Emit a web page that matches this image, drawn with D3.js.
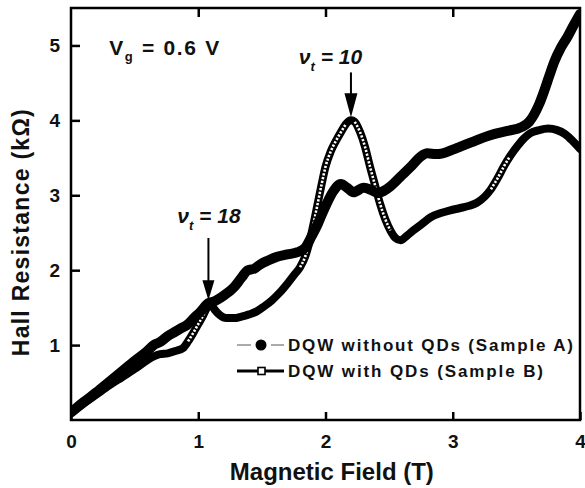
<!DOCTYPE html>
<html>
<head>
<meta charset="utf-8">
<script src="https://cdn.jsdelivr.net/npm/d3@7"></script>
<style>
  body { margin: 0; background: #fff; }
  svg { display: block; }
  text { font-family: "Liberation Sans", Arial, sans-serif; font-weight: bold; fill: #111; }
</style>
</head>
<body>
<svg id="chart"></svg>
<script>
// Sample A: DQW without QDs (filled circles)
const fieldA = [0.00, 0.10, 0.20, 0.30, 0.40, 0.50, 0.60, 0.65, 0.70, 0.76, 0.82, 0.86, 0.92, 0.96, 1.02, 1.08,
  1.12, 1.20, 1.28, 1.34, 1.39, 1.44, 1.49, 1.55, 1.62, 1.70, 1.78, 1.84, 1.89, 1.93, 1.97, 2.01, 2.06, 2.12,
  2.17, 2.22, 2.30, 2.36, 2.41, 2.46, 2.51, 2.59, 2.67, 2.75, 2.80, 2.87, 2.92, 3.00, 3.06, 3.15, 3.24, 3.33,
  3.43, 3.54, 3.60, 3.64, 3.68, 3.72, 3.76, 3.80, 3.85, 3.90, 3.95, 4.00];
const hallA = [0.10, 0.24, 0.37, 0.51, 0.65, 0.79, 0.92, 1.00, 1.04, 1.12, 1.18, 1.22, 1.28, 1.35, 1.45, 1.56,
  1.58, 1.66, 1.77, 1.90, 2.00, 2.02, 2.08, 2.13, 2.18, 2.21, 2.24, 2.30, 2.45, 2.58, 2.74, 2.89, 3.05, 3.15,
  3.10, 3.04, 3.10, 3.07, 3.03, 3.06, 3.12, 3.25, 3.38, 3.52, 3.56, 3.55, 3.56, 3.61, 3.65, 3.71, 3.77, 3.82,
  3.86, 3.91, 3.98, 4.08, 4.22, 4.40, 4.60, 4.79, 4.97, 5.11, 5.27, 5.42];

// Sample B: DQW with QDs (open squares)
const fieldB = [0.00, 0.10, 0.20, 0.30, 0.40, 0.50, 0.60, 0.65, 0.70, 0.76, 0.82, 0.88, 0.92, 0.96, 1.00, 1.04,
  1.07, 1.10, 1.13, 1.17, 1.22, 1.28, 1.34, 1.40, 1.46, 1.52, 1.58, 1.64, 1.70, 1.76, 1.80, 1.84, 1.87, 1.91,
  1.94, 1.97, 2.00, 2.04, 2.08, 2.12, 2.16, 2.20, 2.23, 2.27, 2.31, 2.35, 2.39, 2.43, 2.47, 2.51, 2.55, 2.59,
  2.64, 2.69, 2.76, 2.83, 2.90, 2.98, 3.06, 3.13, 3.19, 3.25, 3.30, 3.35, 3.40, 3.45, 3.51, 3.56, 3.61, 3.68,
  3.75, 3.82, 3.88, 3.94, 4.00];
const hallB = [0.10, 0.22, 0.34, 0.46, 0.57, 0.68, 0.80, 0.85, 0.88, 0.89, 0.92, 0.96, 1.05, 1.16, 1.28, 1.40,
  1.50, 1.54, 1.47, 1.40, 1.36, 1.36, 1.38, 1.41, 1.45, 1.52, 1.60, 1.70, 1.82, 1.95, 2.04, 2.18, 2.35, 2.65,
  2.90, 3.15, 3.38, 3.58, 3.72, 3.84, 3.95, 4.00, 3.98, 3.85, 3.65, 3.38, 3.13, 2.88, 2.68, 2.53, 2.43, 2.40,
  2.46, 2.53, 2.62, 2.71, 2.76, 2.80, 2.83, 2.86, 2.90, 2.98, 3.08, 3.22, 3.38, 3.52, 3.66, 3.76, 3.83, 3.87,
  3.89, 3.87, 3.82, 3.73, 3.62];

const xTicks = [0, 1, 2, 3, 4];
const yTicks = [1, 2, 3, 4, 5];
const legendLabels = ["DQW without QDs (Sample A)", "DQW with QDs (Sample B)"];

const width = 585;
const height = 488;
const margin = { top: 8, right: 5, bottom: 68, left: 71 };
const w = width - margin.left - margin.right;
const h = height - margin.top - margin.bottom;

const svg = d3.select("#chart").attr("width", width).attr("height", height);
const g = svg.append("g").attr("transform", `translate(${margin.left},${margin.top})`);

const x = d3.scaleLinear().domain([0, 4]).range([0, w]);
const y = d3.scaleLinear().domain([0, 5.5]).range([h, 0]);

const dataA = fieldA.map((f, i) => ({ b: f, r: hallA[i] }));
const dataB = fieldB.map((f, i) => ({ b: f, r: hallB[i] }));

g.append("clipPath").attr("id", "plot-clip")
  .append("rect").attr("width", w).attr("height", h);

const line = d3.line().x(d => x(d.b)).y(d => y(d.r)).curve(d3.curveMonotoneX);

const curves = g.append("g").attr("clip-path", "url(#plot-clip)");

// sample B: black band, with the open-square look where the curve is steep
curves.append("path").datum(dataB)
  .attr("d", line)
  .attr("fill", "none").attr("stroke", "#000")
  .attr("stroke-width", 8).attr("stroke-linejoin", "round").attr("stroke-linecap", "round");

// steep segments show the white interiors of the squares
function steep(d, i, arr) {
  const slope = (a, b) => Math.abs((y(b.r) - y(a.r)) / (x(b.b) - x(a.b)));
  const prev = i > 0 ? slope(arr[i - 1], d) : 0;
  const next = i < arr.length - 1 ? slope(d, arr[i + 1]) : 0;
  return Math.max(prev, next) > 1.6;
}
curves.append("path").datum(dataB)
  .attr("d", d3.line().x(d => x(d.b)).y(d => y(d.r)).curve(d3.curveMonotoneX).defined(steep))
  .attr("fill", "none").attr("stroke", "#fff")
  .attr("stroke-width", 2.6).attr("stroke-dasharray", "2.2,1.6");

// sample A: filled circles, drawn as a thick band
curves.append("path").datum(dataA)
  .attr("d", line)
  .attr("fill", "none").attr("stroke", "#000")
  .attr("stroke-width", 10).attr("stroke-linejoin", "round").attr("stroke-linecap", "round");

// axes, ticks inward
const xAxis = g.append("g").attr("transform", `translate(0,${h})`)
  .call(d3.axisBottom(x).tickValues(xTicks).tickSize(-8).tickPadding(15).tickFormat(d3.format("d")));
const yAxis = g.append("g")
  .call(d3.axisLeft(y).tickValues(yTicks).tickSize(-9).tickPadding(11).tickFormat(d3.format("d")));
const topAxis = g.append("g")
  .call(d3.axisTop(x).tickValues([1, 2, 3]).tickSize(-9).tickFormat(""));

[xAxis, yAxis, topAxis].forEach(a => {
  a.select(".domain").remove();
  a.selectAll(".tick line").attr("stroke", "#000").attr("stroke-width", 2.5);
  a.selectAll(".tick text").style("font-size", "19px").attr("fill", "#111");
});

g.append("rect").attr("width", w).attr("height", h)
  .attr("fill", "none").attr("stroke", "#000").attr("stroke-width", 2.5);

// axis titles
svg.append("text")
  .attr("x", margin.left + x(2.05)).attr("y", 480)
  .attr("text-anchor", "middle").style("font-size", "24px")
  .text("Magnetic Field (T)");

svg.append("text")
  .attr("transform", `translate(29,${margin.top + y(2.5)}) rotate(-90)`)
  .attr("text-anchor", "middle").style("font-size", "23px")
  .attr("textLength", 247).attr("lengthAdjust", "spacing")
  .text("Hall Resistance (kΩ)");

// V_g label
const vg = g.append("text").attr("x", x(0.3)).attr("y", y(4.87)).style("font-size", "21px")
  .attr("textLength", 110).attr("lengthAdjust", "spacing");
vg.append("tspan").text("V");
vg.append("tspan").attr("dy", 6).style("font-size", "13px").text("g");
vg.append("tspan").attr("dy", -6).text(" = 0.6 V");

// filling factor annotations
function nuLabel(bx, ry, value) {
  const t = g.append("text").attr("x", x(bx)).attr("y", y(ry))
    .style("font-size", "21px").style("font-style", "italic");
  t.append("tspan").text("ν");
  t.append("tspan").attr("dy", 7).style("font-size", "13px").text("t");
  t.append("tspan").attr("dy", -7).text(" = " + value);
}
function arrow(bx, rTop, rTip, headLen, headW) {
  const ax = x(bx), y0 = y(rTop), y1 = y(rTip);
  g.append("line").attr("x1", ax).attr("x2", ax).attr("y1", y0).attr("y2", y1 - headLen + 2)
    .attr("stroke", "#000").attr("stroke-width", 2);
  g.append("path")
    .attr("d", `M${ax - headW / 2},${y1 - headLen}L${ax + headW / 2},${y1 - headLen}L${ax},${y1}Z`)
    .attr("fill", "#000");
}
nuLabel(0.835, 2.63, "18");
arrow(1.08, 2.43, 1.6, 20, 12);
nuLabel(1.79, 4.75, "10");
arrow(2.2, 4.64, 4.04, 24, 13);

// legend
const legend = svg.append("g").attr("transform", "translate(237,345)");
legendLabels.forEach((label, i) => {
  const row = legend.append("g").attr("transform", `translate(0,${i * 26})`);
  if (i === 0) {
    row.append("line").attr("x1", 0).attr("x2", 14).attr("stroke", "#aaa").attr("stroke-width", 2);
    row.append("line").attr("x1", 34).attr("x2", 47).attr("stroke", "#aaa").attr("stroke-width", 2);
    row.append("circle").attr("cx", 24).attr("r", 5.5).attr("fill", "#000");
  } else {
    row.append("line").attr("x1", 0).attr("x2", 47).attr("stroke", "#000").attr("stroke-width", 3);
    row.append("rect").attr("x", 21).attr("y", -3.5).attr("width", 7).attr("height", 7)
      .attr("fill", "#fff").attr("stroke", "#000").attr("stroke-width", 1.6);
  }
  row.append("text").attr("x", 51).attr("dy", "0.36em").style("font-size", "17px")
    .attr("textLength", i === 0 ? 285 : 255).attr("lengthAdjust", "spacing")
    .text(label);
});
</script>
</body>
</html>
